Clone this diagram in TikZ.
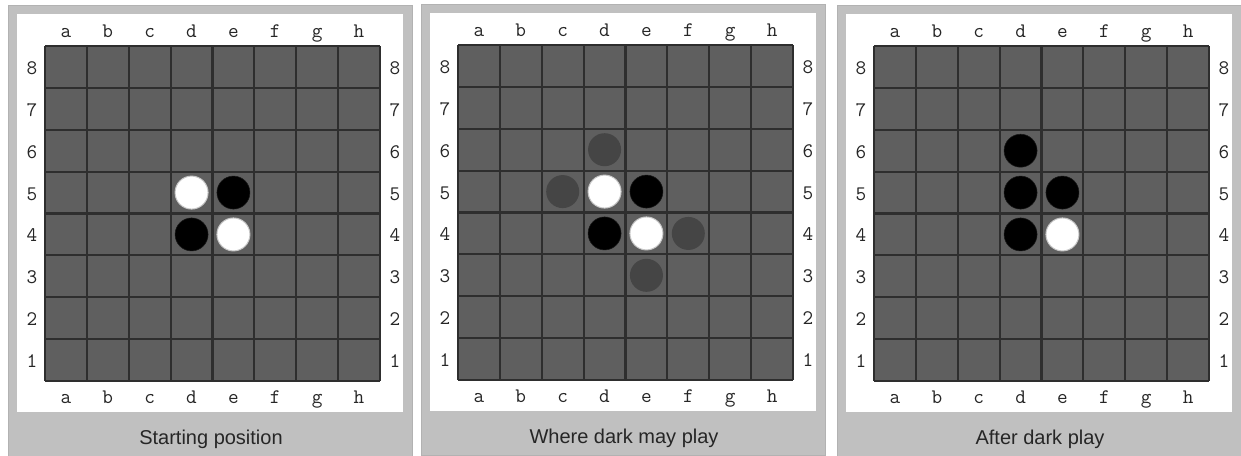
\documentclass[tikz,border=0pt]{standalone}
\usepackage{fontspec}
\setmainfont{Liberation Sans}
\usetikzlibrary{positioning}

\definecolor{panelgray}{HTML}{C0C0C0}
\definecolor{paneledge}{HTML}{B2B2B2}
\definecolor{boardgray}{HTML}{5F5F5F}
\definecolor{gridline}{HTML}{2E2E2E}
\definecolor{hintgray}{HTML}{454545}

\begin{document}
\begin{tikzpicture}[
    x=0.75pt, y=-0.75pt,
    panel/.style={fill=panelgray, draw=paneledge, line width=0.75pt},
    frame/.style={fill=white},
    board/.style={fill=boardgray},
    grid/.style={draw=gridline, line width=1.6pt},
    coord/.style={font=\ttfamily\fontsize{15.5}{16}\selectfont, text=black!85, inner sep=0pt, anchor=base},
    caption/.style={font=\fontsize{15}{16}\selectfont, text=black!85, inner sep=0pt, anchor=base},
    disc/.style={circle, minimum size=24.75pt, inner sep=0pt},
    light/.style={disc, fill=white, draw=gray!45, line width=0.75pt},
    dark/.style={disc, fill=black, draw=black!90},
    hint/.style={disc, fill=hintgray}
]
\useasboundingbox[fill=white] (0,0) rectangle (1241,455);

% Panels with board, coordinates and caption
\foreach \p/\px/\py/\txt in {1/8/5/Starting position, 2/421/4/Where dark may play, 3/837/5/After dark play} {
  \begin{scope}[shift={(\px,\py)}]
    \path[panel] (0,0) rectangle (404,451);
    \path[frame] (9,9) rectangle (395,407);
    \path[board] (37,41) rectangle (372,376);
    \foreach \k in {0,...,8} {
      \draw[grid] ({37+\k*41.875},41) -- ({37+\k*41.875},376);
      \draw[grid] (37,{41+\k*41.875}) -- (372,{41+\k*41.875});
    }
    \foreach \c [count=\i] in {a,b,c,d,e,f,g,h} {
      \node[coord] (top\p-\c) at ({37+(\i-0.5)*41.875},32) {\c};
      \node[coord] (bot\p-\c) at ({37+(\i-0.5)*41.875},398) {\c};
      \foreach \r in {1,...,8}
        \coordinate (p\p-\c\r) at ({37+(\i-0.5)*41.875},{41+(8.5-\r)*41.875});
    }
    \foreach \r in {1,...,8} {
      \node[coord] (left\p-\r) at (24,{48.5+(8.5-\r)*41.875}) {\r};
      \node[coord] (right\p-\r) at (387,{48.5+(8.5-\r)*41.875}) {\r};
    }
    \node[caption] (cap\p) at (203,439) {\txt};
  \end{scope}
}

% Discs
\foreach \s/\cell in {light/d5, dark/e5, dark/d4, light/e4}
  \node[\s] (disc1-\cell) at (p1-\cell) {};
\foreach \s/\cell in {light/d5, dark/e5, dark/d4, light/e4, hint/d6, hint/c5, hint/f4, hint/e3}
  \node[\s] (disc2-\cell) at (p2-\cell) {};
\foreach \s/\cell in {dark/d6, dark/d5, dark/e5, dark/d4, light/e4}
  \node[\s] (disc3-\cell) at (p3-\cell) {};

\end{tikzpicture}
\end{document}
